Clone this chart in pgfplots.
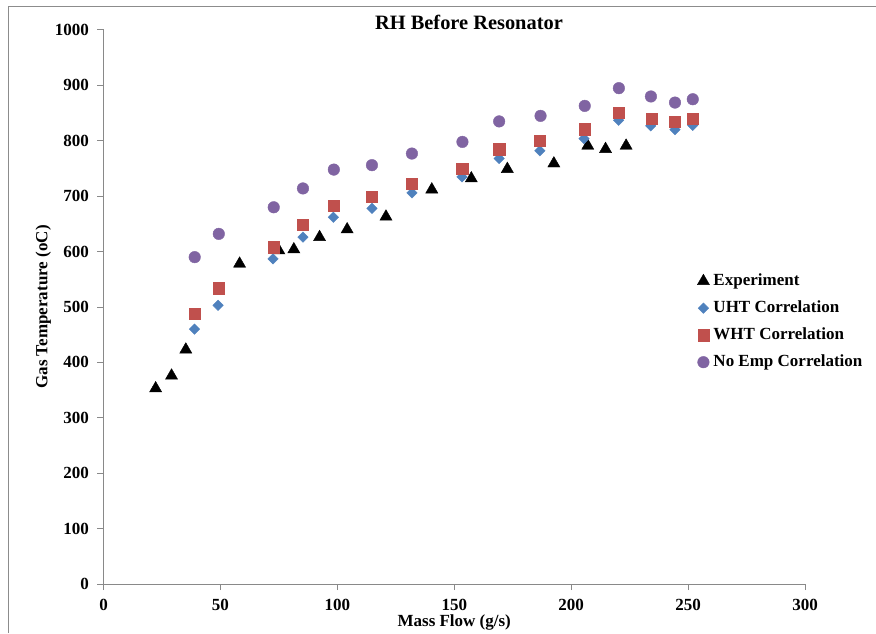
\documentclass[border=0pt]{standalone}
\usepackage{fontspec}
\setmainfont{Liberation Serif}
\usepackage{pgfplots}
\pgfplotsset{compat=1.18}

\definecolor{axisgray}{HTML}{898989}
\definecolor{framegray}{HTML}{8C8C8C}
\definecolor{uhtblue}{HTML}{4F81BD}
\definecolor{whtred}{HTML}{C0504D}
\definecolor{empviolet}{HTML}{8064A2}

\newcommand{\lblfont}{\fontsize{17}{20}\selectfont\bfseries}

\begin{document}
\begin{tikzpicture}[x=1pt,y=1pt]
% chart area frame
\draw[framegray, line width=1pt] (8,0) -- (8,626) -- (876,626);

\begin{axis}[
  at={(103.5pt,49pt)}, anchor=south west,
  scale only axis, width=701.5pt, height=554pt,
  xmin=0, xmax=300, ymin=0, ymax=1000,
  xtick={0,50,...,300}, ytick={0,100,...,1000},
  axis x line=bottom, axis y line=left,
  axis line style={-, axisgray, line width=1pt},
  tick style={axisgray, line width=1pt},
  tick align=outside, major tick length=6pt,
  /pgf/number format/assume math mode=true,
  /pgf/number format/1000 sep={},
  tick label style={font=\lblfont},
  yticklabel style={xshift=-5pt},
  xticklabel style={yshift=-5.5pt},
  title={RH Before Resonator},
  title style={at={(rel axis cs:0.521,1.002)}, anchor=base, yshift=-7pt,
    font=\fontsize{20.4}{24}\selectfont\bfseries, inner sep=0pt},
  xlabel={Mass Flow (g/s)},
  xlabel style={at={(rel axis cs:0.5,-0.0776)}, anchor=base,
    font=\lblfont, inner sep=0pt},
  ylabel={Gas Temperature (oC)},
  ylabel style={at={(rel axis cs:-0.0800,0.5)}, anchor=base, rotate=0,
    font=\lblfont, inner sep=0pt},
  legend cell align=left,
  legend image code/.code={\draw[#1] plot coordinates {(0pt,0pt)};},
  legend style={at={(rel axis cs:0.842,0.565)}, anchor=north west,
    draw=none, fill=none, font=\lblfont, row sep=11pt,
    nodes={inner sep=0pt, text height=12pt, text depth=4pt},
    column sep=4pt},
]
\addplot[only marks, mark=triangle*, mark size=7pt, draw=black, fill=black]
  coordinates {
  (22.3,353) (29.1,376) (35.2,423) (58.2,578) (75.0,602) (81.4,604)
  (92.4,626) (104.2,640) (120.8,663) (140.4,712) (157.3,732) (172.7,749)
  (192.6,759) (207.1,791) (214.7,785) (223.5,791)
  };
\addlegendentry{Experiment}

\addplot[only marks, mark=square*, mark size=3.7pt,
  mark options={rotate=45, draw=uhtblue, fill=uhtblue}]
  coordinates {
  (38.9,460) (49.0,503) (72.5,587) (85.3,626) (98.3,662) (114.8,678)
  (131.9,706) (153.3,735) (169.2,768) (186.6,782) (205.5,804) (220.3,837)
  (234.0,827) (244.4,820) (252.0,828)
  };
\addlegendentry{UHT Correlation}

\addplot[only marks, mark=square*, mark size=5.6pt,
  mark options={draw=whtred, fill=whtred}]
  coordinates {
  (39.0,488) (49.1,534) (72.7,608) (85.3,648) (98.3,683) (114.8,699)
  (131.9,723) (153.4,749) (169.2,785) (186.6,800) (205.8,821) (220.4,851)
  (234.3,840) (244.4,834) (252.0,840)
  };
\addlegendentry{WHT Correlation}

\addplot[only marks, mark=*, mark size=5.8pt,
  mark options={draw=empviolet, fill=empviolet}]
  coordinates {
  (39.0,590) (49.3,632) (72.8,680) (85.3,714) (98.5,748) (114.8,756)
  (131.9,777) (153.5,798) (169.2,835) (186.9,845) (205.8,863) (220.4,895)
  (234.1,880) (244.4,869) (252.0,875)
  };
\addlegendentry{No Emp Correlation}
\end{axis}

\pgfresetboundingbox
\path[use as bounding box] (0,0) rectangle (876,633);
\end{tikzpicture}
\end{document}
